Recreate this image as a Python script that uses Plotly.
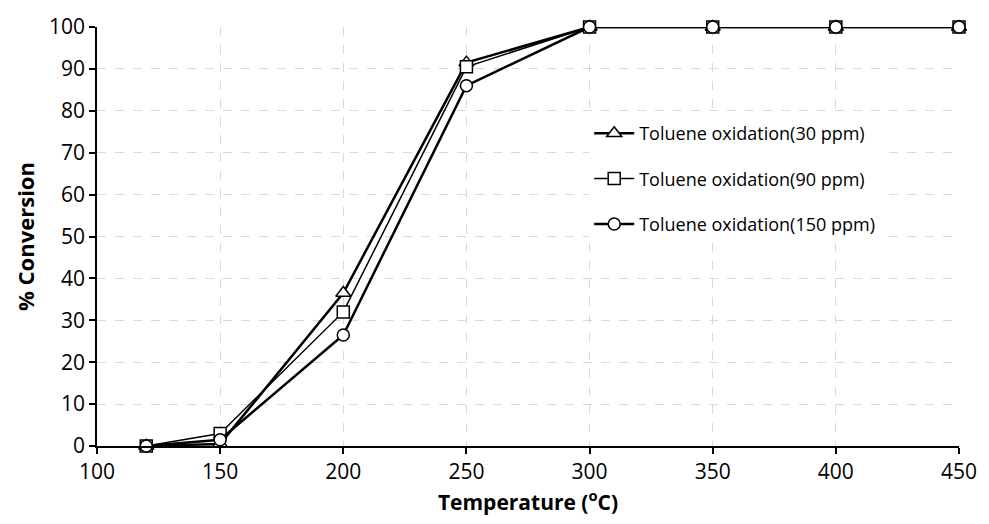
import plotly.graph_objects as go

temps = [120, 150, 200, 250, 300, 350, 400, 450]
conv_30 = [0, 0.5, 36.5, 91.5, 100, 100, 100, 100]
conv_90 = [0, 3, 32, 90.5, 100, 100, 100, 100]
conv_150 = [0, 1.5, 26.5, 86, 100, 100, 100, 100]
names = ["Toluene oxidation(30 ppm)", "Toluene oxidation(90 ppm)", "Toluene oxidation(150 ppm)"]
symbols = ["triangle-up", "square", "circle"]

FONT = "Open Sans"
fig = go.Figure()
for i, (vals, nm, sym) in enumerate(zip([conv_30, conv_90, conv_150], names, symbols)):
    fig.add_trace(go.Scatter(
        x=temps, y=vals, name=nm, mode="lines+markers", legendgroup=str(i),
        cliponaxis=False,
        line=dict(color="black", width=2.5 if i != 1 else 1.5),
        marker=dict(symbol=sym, size=12 if sym != "triangle-up" else 13,
                    color="white", line=dict(color="black", width=1.5)),
    ))

axis_common = dict(
    showline=True, linecolor="black", linewidth=1.5,
    ticks="outside", ticklen=6, tickcolor="black", tickwidth=1.5,
    showgrid=True, gridcolor="#d9d9d9", griddash="dash", gridwidth=1,
    zeroline=False, tickfont=dict(family=FONT, size=21, color="black"),
)
fig.update_xaxes(range=[100, 450], dtick=50, tick0=100,
                 title=dict(text="Temperature (<sup>o</sup>C)", standoff=0,
                            font=dict(family=FONT, size=21, color="black", weight="bold")),
                 **axis_common)
fig.update_yaxes(range=[0, 100], dtick=10,
                 title=dict(text="% Conversion", standoff=8,
                            font=dict(family=FONT, size=22, color="black", weight="bold")),
                 **axis_common)

fig.update_layout(
    width=989, height=524,
    margin=dict(l=97, r=27, t=21, b=78),
    plot_bgcolor="white", paper_bgcolor="white",
    legend=dict(x=0.571, y=0.79, xanchor="left", yanchor="top",
                bgcolor="white", font=dict(family=FONT, size=18, color="black"),
                tracegroupgap=19, itemwidth=40),
)
fig.write_html("out.html")
